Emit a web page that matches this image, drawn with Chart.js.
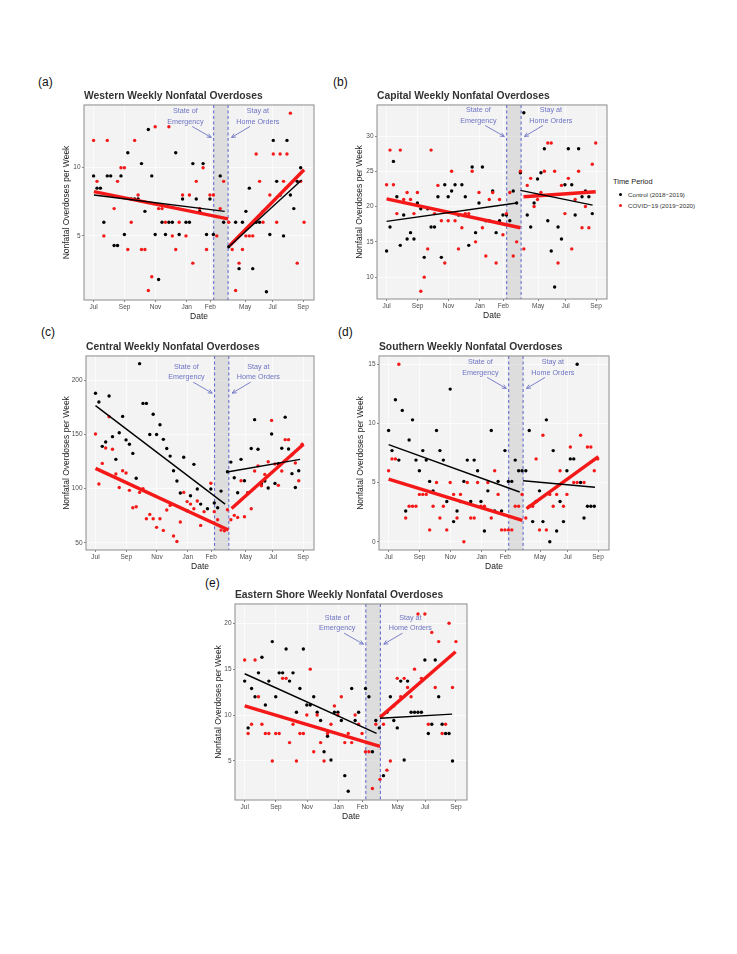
<!DOCTYPE html>
<html>
<head>
<meta charset="utf-8">
<script src="https://cdn.jsdelivr.net/npm/chart.js@4.4.1/dist/chart.umd.min.js"></script>
<style>
  body { margin:0; background:#fff; width:737px; height:954px; position:relative; overflow:hidden;
         font-family:"Liberation Sans", Arial, sans-serif; }
  canvas { position:absolute; }
  .tag  { position:absolute; font-size:12px; line-height:14px; color:#111; }
  .leg  { position:absolute; white-space:nowrap; color:#222; }
  .dot  { position:absolute; width:3.4px; height:3.4px; border-radius:50%; }
</style>
</head>
<body>

<div class="tag" style="left:38px;top:75px">(a)</div>
<div class="tag" style="left:333px;top:75px">(b)</div>
<div class="tag" style="left:41px;top:325px">(c)</div>
<div class="tag" style="left:338px;top:325px">(d)</div>
<div class="tag" style="left:205px;top:576px">(e)</div>

<div class="leg" style="left:613px;top:177px;font-size:7.4px;line-height:9px;color:#1a1a1a">Time Period</div>
<div class="dot" style="left:619px;top:192.6px;background:#000"></div>
<div class="leg" style="left:628px;top:190.5px;font-size:6.2px;line-height:7.6px;color:#333">Control (2018−2019)</div>
<div class="dot" style="left:619px;top:204px;background:#f51818"></div>
<div class="leg" style="left:628px;top:201.9px;font-size:6.2px;line-height:7.6px;color:#333">COVID−19 (2019−2020)</div>

<script>
/* ——— shared axis data ——— */
const X_TICKS  = [0, 9.06, 18.1, 27.2, 34.1, 44.3, 52.3, 61.2];   // week index
const X_LABELS = ['Jul', 'Sep', 'Nov', 'Jan', 'Feb', 'May', 'Jul', 'Sep'];
const X_RANGE  = [-2.8, 64.4];
const SHADE    = [35.1, 39.3];          // State of Emergency -> Stay at Home
const ANNO_LEFT  = ['State of', 'Emergency'];
const ANNO_RIGHT = ['Stay at', 'Home Orders'];
const ANNO_TEXT_X  = [26.8, 48.0];
const ANNO_ARROW_L = [28.8, 34.4];
const ANNO_ARROW_R = [45.7, 40.3];

/* ——— (a) Western ——— */
const WEST_CTRL_PRE   = [9.4, 8.5, 8.5, 6.0, 9.4, 9.4, 4.3, 4.3, 9.4, 5.1, 11.1, 7.7, 7.7, 7.7, 10.3, 6.8, 12.8, 9.4, 5.1, 1.8, 6.0, 5.1, 6.0, 6.0, 11.1, 5.1, 7.7, 6.0, 6.0, 10.3, 7.7, 6.8, 10.3, 5.1, 7.7, 5.1, null, 9.4, 6.0];
const WEST_CTRL_POST  = [4.2, null, 6.0, 2.6, 6.0, 6.8, 8.5, 2.6, 6.0, 6.0, 6.8, 0.9, 5.1, 12.0, 9.0, 8.0, 5.0, 12.0, 8.0, 7.0, 9.0, 10.0, null];
const WEST_COVID_PRE  = [12, 9, null, 5, 12, null, 7, 9, 10, 10, 4, 6, 12, 8, 4, 4, 1, 2, 13, 7, 7, 6, 13, 5, 4, 6, 8, 5, 8, 3, 9, 7, 10, 4, 8, 8, 5, 7, 9];
const WEST_COVID_POST = [6, 4, 1, 3, 4, 5, 5, 5, 11, 9, 6, null, 8, 11, 6, 11, 9, 11, 14, null, 3, 9, 6];
const WEST_POST_WEEK0 = 39.5;
const WEST_FIT_CTRL   = [[0.1, 8.0, 38.3, 6.8], [39.3, 4.15, 60.8, 9.1]];   // x0,y0,x1,y1
const WEST_FIT_COVID  = [[0.1, 8.25, 39.3, 6.25], [39.8, 4.3, 61.5, 9.85]];
const WEST_Y_RANGE = [0.3, 14.6];
const WEST_Y_TICKS = [5, 10];

/* ——— (b) Capital ——— */
const CAP_CTRL_PRE   = [13.7, 17.1, 26.4, 21.4, 14.5, 18.8, 15.4, 16.3, 15.4, 20.5, 19.7, 12.8, 19.7, 17.1, 17.1, 21.4, 12.8, 23.1, 21.4, 22.2, 23.1, 18.8, 23.1, 21.4, 14.5, 25.6, 16.3, 20.5, 25.6, 18.0, 18.0, 22.2, 16.3, 18.0, 18.8, 18.8, 18.0, 22.2, 20.5];
const CAP_CTRL_POST  = [24.8, 33.3, 18.8, 17.1, 20.5, 23.9, 24.8, 28.2, 18.0, 13.7, 8.6, 17.1, 15.4, 23.1, 28.2, 23.1, 18.8, 28.2, 21.4, 22.2, 21.4, 19.0, null];
const CAP_COVID_PRE  = [23.1, 28, 23.1, 19, 28, 21, 22, 21, 19, 22, 8, 10, 14, 28, 19, 23, 18, 12, 18, 25, 18, 14, 17, 19, 19, 25, 15, 22, 17, 13, 21, 22, 12, 21, 16, 19, 22, 13, 15];
const CAP_COVID_POST = [25, 14, 23, 24, 20, 21, 22, 25, 29, 29, 25, 12, 23, 19, 24, 14, 21, 25, 17, 20, 17, 26, 29];
const CAP_POST_WEEK0 = 39.1;
const CAP_FIT_CTRL   = [[0, 17.9, 38.0, 20.5], [39.1, 22.3, 60.2, 20.2]];
const CAP_FIT_COVID  = [[0, 21.1, 39.1, 17.0], [40.0, 21.4, 61.1, 22.1]];
const CAP_Y_RANGE = [6.9, 34.4];
const CAP_Y_TICKS = [10, 15, 20, 25, 30];

/* ——— (c) Central ——— */
const CEN_CTRL_PRE   = [188, 180, 139, 143, 185.5, 148, 127, 151.6, 166.7, 145, 141, 132.5, 109.5, 215.4, 178.7, 178.7, 150, 168.6, 150, 159, 145.5, 137, 130, 116.5, 107, 96, 129, 79.6, 93.4, 122.4, 99.6, 85.7, null, 81.4, 99.6, 86.7, 82.3, 97.7, null];
const CEN_CTRL_POST  = [115.6, 124.5, 110, 96.2, 127, 107.3, 96.2, 137, 163.7, 136.3, 104.5, 107, 100.5, 150.4, 104.8, 123, 137.2, 166, 136.6, 113.8, 101, 116.5, null];
const CEN_COVID_PRE  = [150.4, 104.2, 123.3, 137.5, 166.4, 136.3, 113.5, 101, 116.5, 114.4, 98.4, 82.3, 83.3, 96.5, 100, 72.2, 76.2, 72.2, 64.2, 72.2, 61.4, 80.2, 84.5, 56.2, 51.2, 69.1, 96.5, 88, 85.7, 81.4, 88.5, 66, 78.7, null, 105, 78.7, 71.3, 61.7, 61.0];
const CEN_COVID_POST = [80.5, 71.3, 75.3, 73.4, 107.3, 74, 96.2, 81.4, 116.2, 121, 102.7, 113.1, 124.8, 163, 122.7, 103, 116.2, 145.2, 145.2, 131.3, 123.6, 107.3, 141];
const CEN_POST_WEEK0 = 38.9;
const CEN_FIT_CTRL   = [[0, 176.6, 38.2, 85.7], [39.2, 115.6, 60.3, 127]];
const CEN_FIT_COVID  = [[0, 118.7, 39.2, 61.7], [40.1, 81.7, 61.3, 141]];
const CEN_Y_RANGE = [43.3, 222.5];
const CEN_Y_TICKS = [50, 100, 150, 200];

/* ——— (d) Southern ——— */
const SOU_CTRL_PRE   = [9.4, 7.7, 12.0, 6.9, 11.1, 2.6, 8.6, 10.3, 6.9, 6.0, 7.7, 6.9, 5.1, 4.3, 9.4, 7.7, 6.9, 3.4, 12.9, 1.7, 2.6, 3.4, 5.1, 6.9, 3.4, 6.9, 6.0, 3.4, 0.9, 4.3, 9.4, 2.6, 5.1, 2.6, 7.7, 5.1, 5.1, 6.9, 6.0, 6.0];
const SOU_CTRL_POST  = [6.0, 9.4, 1.7, 3.4, 4.3, 1.7, 10.3, 0, 7.7, 0.9, 3.4, 1.7, 6.0, 7.0, 7.0, 15.0, 5.0, 2.0, 3.0, 3.0, 3.0, null];
const SOU_COVID_PRE  = [6, 7, 7, 15, null, 2, 3, 3, 3, 4, 4, 4, 1, 3, 5, 2, 3, 1, 5, 4, 2, 4, 0, 5, 2, 2, 5, 3, 3, 5, 2, 6, 4, 1, 1, 1, 1, 3, 3, 4];
const SOU_COVID_POST = [2, 3, 3, 7, 1, 9, 1, 4, 3, 4, 6, 3, 4, 8, 5, 5, 9, 5, 8, 8, 6, 7];
const SOU_POST_WEEK0 = 40.1;
const SOU_FIT_CTRL   = [[0, 8.2, 38.3, 4.2], [39.3, 5.15, 60.3, 4.6]];
const SOU_FIT_COVID  = [[0, 5.3, 39.1, 1.8], [40.3, 2.8, 61.3, 7.2]];
const SOU_Y_RANGE = [-0.7, 15.7];
const SOU_Y_TICKS = [0, 5, 10, 15];

/* ——— (e) Eastern Shore ——— */
const EAS_CTRL_PRE   = [13.7, 8.6, 12.9, 12.0, 14.6, 16.3, 11.1, 13.7, 18.0, 12.0, 14.6, 14.6, 17.2, 13.7, 14.6, 10.3, 12.9, 17.2, 11.1, 11.1, 12.0, 10.3, 9.4, 6.0, 7.7, 5.1, 10.3, 10.3, 9.4, 3.4, 1.7, 12.9, 9.4, 10.3, null, 12.9, 12.0, 6.0, 9.4, 8.6];
const EAS_CTRL_POST  = [null, 3.4, 10.3, 12.0, 9.4, 8.6, 13.7, 5.1, 13.7, 10.3, 10.3, 10.3, 10.3, 16.0, 8.0, 9.0, 16.0, 12.0, 9.0, 8.0, 8.0, 5.0];
const EAS_COVID_PRE  = [16, 8, 9, 16, 12, 9, 8, 8, 5, 8, 8, 14, 14, 7, 9, 5, 8, 8, 10, 15, 6, 10, 7, 5, 8, 9, 11, 10, 12, 7, 8, 7, 10, 9, 8, 6, 6, 2, 9, null];
const EAS_COVID_POST = [3, 9, 4, 5, 11, 14, 12, 14, 13, 12, 15, 21, 14, 21, 9, 19, 13, 18, 8, 9, 20, 13, 18];
const EAS_POST_WEEK0 = 39.2;
const EAS_FIT_CTRL   = [[0, 14.5, 38.2, 8.0], [39.2, 9.65, 60.1, 10.1]];
const EAS_FIT_COVID  = [[0, 11.0, 39.2, 6.6], [39.2, 9.75, 61.1, 16.9]];
const EAS_Y_RANGE = [0.75, 22.1];
const EAS_Y_TICKS = [5, 10, 15, 20];

/* ——— styling ——— */
const BLACK = '#000000', RED = '#f51818';
const PANEL_BG = '#f2f3f2', SHADE_FILL = 'rgba(190,190,190,0.42)';
const DASH_COLOR = '#5a62cc', ANNO_COLOR = '#6f74c4';
const YW = 26, TH = 18, XH = 22, RP = 6;     // y-axis width, title height, x-axis height, right pad

const PANELS = [
  {title:'Western Weekly Nonfatal Overdoses', cp:WEST_CTRL_PRE, cq:WEST_CTRL_POST, vp:WEST_COVID_PRE, vq:WEST_COVID_POST,
   w0:WEST_POST_WEEK0, fc:WEST_FIT_CTRL, fv:WEST_FIT_COVID, yr:WEST_Y_RANGE, yt:WEST_Y_TICKS,
   box:{left:84, top:105, w:230, h:195, yTitleX:66.7, dy:6}},
  {title:'Capital Weekly Nonfatal Overdoses', cp:CAP_CTRL_PRE, cq:CAP_CTRL_POST, vp:CAP_COVID_PRE, vq:CAP_COVID_POST,
   w0:CAP_POST_WEEK0, fc:CAP_FIT_CTRL, fv:CAP_FIT_COVID, yr:CAP_Y_RANGE, yt:CAP_Y_TICKS,
   box:{left:377, top:105, w:230, h:194, yTitleX:359.3, dy:5}},
  {title:'Central Weekly Nonfatal Overdoses', cp:CEN_CTRL_PRE, cq:CEN_CTRL_POST, vp:CEN_COVID_PRE, vq:CEN_COVID_POST,
   w0:CEN_POST_WEEK0, fc:CEN_FIT_CTRL, fv:CEN_FIT_COVID, yr:CEN_Y_RANGE, yt:CEN_Y_TICKS,
   box:{left:86, top:356, w:228, h:194, yTitleX:66.7, dy:10.7}},
  {title:'Southern Weekly Nonfatal Overdoses', cp:SOU_CTRL_PRE, cq:SOU_CTRL_POST, vp:SOU_COVID_PRE, vq:SOU_COVID_POST,
   w0:SOU_POST_WEEK0, fc:SOU_FIT_CTRL, fv:SOU_FIT_COVID, yr:SOU_Y_RANGE, yt:SOU_Y_TICKS,
   box:{left:379, top:356, w:230, h:194, yTitleX:360.7, dy:6}},
  {title:'Eastern Shore Weekly Nonfatal Overdoses', cp:EAS_CTRL_PRE, cq:EAS_CTRL_POST, vp:EAS_COVID_PRE, vq:EAS_COVID_POST,
   w0:EAS_POST_WEEK0, fc:EAS_FIT_CTRL, fv:EAS_FIT_COVID, yr:EAS_Y_RANGE, yt:EAS_Y_TICKS,
   box:{left:235, top:604, w:232, h:196, yTitleX:218.3, dy:13.7}}
];

Chart.defaults.font.family = '"Liberation Sans", Arial, sans-serif';

/* ——— helpers ——— */
const weekly = (pre, post, w0) => [
  ...pre.map((v, i) => ({x: i, y: v})),
  ...post.map((v, j) => ({x: w0 + j, y: v}))
].filter(p => p.y !== null);

const fitSets = (segs, colour, width) => segs.map(s => ({
  data: [{x: s[0], y: s[1]}, {x: s[2], y: s[3]}],
  showLine: true, borderColor: colour, borderWidth: width,
  pointRadius: 0, pointHoverRadius: 0, borderCapStyle: 'butt'
}));

function arrow(ctx, x0, y0, x1, y1) {
  const a = Math.atan2(y1 - y0, x1 - x0), L = 4.5;
  ctx.beginPath();
  ctx.moveTo(x0, y0); ctx.lineTo(x1, y1);
  ctx.moveTo(x1 - L * Math.cos(a - 0.45), y1 - L * Math.sin(a - 0.45));
  ctx.lineTo(x1, y1);
  ctx.lineTo(x1 - L * Math.cos(a + 0.45), y1 - L * Math.sin(a + 0.45));
  ctx.stroke();
}

/* ——— panel decoration: background, shade, dashed lines, notes, border ——— */
const deco = {
  id: 'deco',
  beforeDraw(chart) {
    const {ctx, chartArea: a} = chart;
    ctx.save(); ctx.fillStyle = PANEL_BG;
    ctx.fillRect(a.left, a.top, a.width, a.height); ctx.restore();
  },
  beforeDatasetsDraw(chart) {
    const {ctx, chartArea: a, scales: {x}} = chart;
    const x0 = x.getPixelForValue(SHADE[0]), x1 = x.getPixelForValue(SHADE[1]);
    ctx.save();
    ctx.fillStyle = SHADE_FILL; ctx.fillRect(x0, a.top, x1 - x0, a.height);
    ctx.strokeStyle = DASH_COLOR; ctx.lineWidth = 1; ctx.setLineDash([3, 2.5]);
    [x0, x1].forEach(px => { ctx.beginPath(); ctx.moveTo(px, a.top); ctx.lineTo(px, a.bottom); ctx.stroke(); });
    ctx.restore();
  },
  afterDatasetsDraw(chart, args, opts) {
    const {ctx, chartArea: a, scales: {x}} = chart;
    const y1 = a.top + opts.dy;
    ctx.save();
    ctx.fillStyle = ANNO_COLOR; ctx.strokeStyle = ANNO_COLOR; ctx.lineWidth = 0.9;
    ctx.font = '7.2px "Liberation Sans", Arial, sans-serif';
    ctx.textAlign = 'center'; ctx.textBaseline = 'middle';
    [ANNO_LEFT, ANNO_RIGHT].forEach((lines, k) => {
      const px = x.getPixelForValue(ANNO_TEXT_X[k]);
      lines.forEach((t, i) => ctx.fillText(t, px, y1 + i * 10.8));
    });
    arrow(ctx, x.getPixelForValue(ANNO_ARROW_L[0]), y1 + 15.5, x.getPixelForValue(ANNO_ARROW_L[1]), y1 + 26.5);
    arrow(ctx, x.getPixelForValue(ANNO_ARROW_R[0]), y1 + 15.5, x.getPixelForValue(ANNO_ARROW_R[1]), y1 + 26.5);
    ctx.restore();
  },
  afterDraw(chart) {
    const {ctx, chartArea: a} = chart;
    ctx.save(); ctx.strokeStyle = '#8c8c8c'; ctx.lineWidth = 1;
    ctx.strokeRect(a.left, a.top, a.width, a.height); ctx.restore();
  }
};

/* ——— build the five panels ——— */
PANELS.forEach(p => {
  const b = p.box;
  const cv = document.createElement('canvas');
  const left = b.left - YW, top = b.top - TH;
  cv.width = YW + b.w + RP; cv.height = TH + b.h + XH;
  cv.style.left = left + 'px'; cv.style.top = top + 'px';
  document.body.appendChild(cv);

  const tickFont = {size: 6.5};
  new Chart(cv, {
    type: 'scatter',
    data: {
      datasets: [
        ...fitSets(p.fc, BLACK, 1.4),
        ...fitSets(p.fv, RED, 3.4),
        {data: weekly(p.vp, p.vq, p.w0), backgroundColor: RED, pointRadius: 1.7, pointBorderWidth: 0, pointHoverRadius: 0},
        {data: weekly(p.cp, p.cq, p.w0), backgroundColor: BLACK, pointRadius: 1.7, pointBorderWidth: 0, pointHoverRadius: 0}
      ]
    },
    options: {
      responsive: false, animation: false, devicePixelRatio: 1,
      events: [],
      layout: {padding: {left: 0, right: RP, top: 0, bottom: 0}},
      plugins: {
        legend: {display: false}, tooltip: {enabled: false},
        title: {display: true, text: p.title, align: 'start', fullSize: false,
                color: '#333', font: {size: 10.3, weight: 'bold'}, padding: {top: 2.8, bottom: 2.8}},
        deco: {dy: b.dy}
      },
      scales: {
        x: {
          type: 'linear', min: X_RANGE[0], max: X_RANGE[1], bounds: 'data',
          afterBuildTicks: s => { s.ticks = X_TICKS.map(v => ({value: v})); },
          afterFit: s => { s.height = XH; },
          ticks: {callback: (v, i) => X_LABELS[i], font: tickFont, color: '#4d4d4d',
                  padding: 1, maxRotation: 0, autoSkip: false},
          grid: {color: 'rgba(255,255,255,0.85)', lineWidth: 0.8, tickLength: 2, tickColor: '#666', tickWidth: 0.8},
          border: {display: false},
          title: {display: true, text: 'Date', color: '#222', font: {size: 8.5}, padding: {top: 0, bottom: 0.5}}
        },
        y: {
          min: p.yr[0], max: p.yr[1], bounds: 'data',
          afterBuildTicks: s => { s.ticks = p.yt.map(v => ({value: v})); },
          afterFit: s => { s.width = YW; },
          ticks: {callback: v => String(v), font: tickFont, color: '#4d4d4d', padding: 1.5, autoSkip: false},
          grid: {color: 'rgba(255,255,255,0.85)', lineWidth: 0.8, tickLength: 2, tickColor: '#666', tickWidth: 0.8},
          border: {display: false},
          title: {display: true, text: 'Nonfatal Overdoses per Week', color: '#222', font: {size: 8.5},
                  padding: {top: b.yTitleX - left - 5.1, bottom: 0}}
        }
      }
    },
    plugins: [deco]
  });
});
</script>
</body>
</html>
